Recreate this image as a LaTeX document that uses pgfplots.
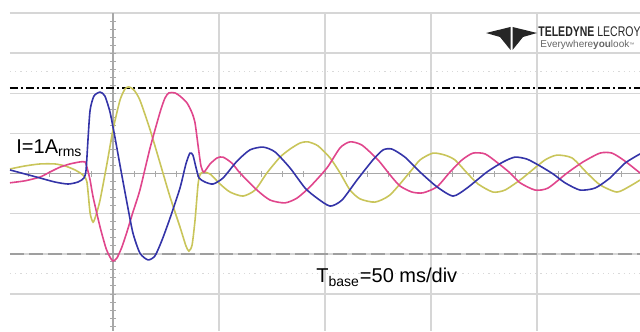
\documentclass[border=0pt]{standalone}
\usepackage{pgfplots}
\pgfplotsset{compat=1.18}
\usepackage{fontspec}
\setmainfont{Liberation Sans}

\definecolor{phaseA}{HTML}{C9C55A}
\definecolor{phaseB}{HTML}{E0468C}
\definecolor{phaseC}{HTML}{3434A8}
\definecolor{gridgray}{HTML}{D6D6D6}
\definecolor{centergray}{HTML}{A8A8A8}

% time in ms (50 ms/div), current in divisions
\pgfplotstableread{
t v
-48.6 0.115
-41.5 0.19
-34.4 0.24
-27.4 0.24
-22.6 0.19
-17.9 0.09
-14.2 -0.035
-12.3 -0.21
-10.8 -0.98
-9.4 -1.21
-8.0 -1.03
-6.1 -0.66
-2.8 0.26
0 1.09
3.3 1.83
5.7 2.11
7.5 2.16
9.9 2.08
12.7 1.83
17.5 1.09
22.2 0.26
26.9 -0.58
31.6 -1.33
34.4 -1.80
35.8 -1.93
37.3 -1.78
38.7 -1.16
40.1 -0.28
41.0 -0.035
42.5 0.04
45.8 -0.01
50.5 -0.26
55.2 -0.46
61.3 -0.56
67.0 -0.41
72.6 0.015
78.8 0.41
83.5 0.61
88.2 0.76
92.0 0.79
96.7 0.69
102.4 0.39
107.1 0.015
111.8 -0.41
116.5 -0.63
123.6 -0.71
130.7 -0.53
140.1 0.04
144.8 0.34
150.9 0.51
156.6 0.46
161.3 0.34
167.0 0.015
172.2 -0.26
179.2 -0.46
184.9 -0.41
192.0 -0.16
196.7 0.04
203.8 0.34
209.4 0.46
216.5 0.39
223.6 0.015
229.7 -0.28
237.7 -0.46
243.9 -0.31
248.6 -0.16
}\phaseAdata

\pgfplotstableread{
t v
-48.6 -0.23
-41.5 -0.18
-34.4 -0.085
-29.7 0.04
-25.0 0.16
-20.3 0.24
-15.6 0.29
-13.2 0.29
-12.3 0.16
-10.8 -0.16
-9.4 -0.58
-6.1 -1.33
-3.3 -1.86
-1.4 -2.08
0 -2.18
1.9 -2.10
4.2 -1.83
6.6 -1.45
9.4 -0.96
12.7 -0.41
17.5 0.64
22.2 1.53
24.5 1.88
26.4 2.01
29.2 2.01
31.6 1.93
34.9 1.76
37.3 1.51
38.7 1.26
40.1 0.71
41.5 0.19
42.9 0.04
45.8 0.24
49.1 0.39
51.9 0.41
56.1 0.26
59.9 0.015
67.9 -0.41
74.1 -0.66
81.1 -0.73
86.8 -0.61
92.9 -0.33
100.9 0.14
107.1 0.64
111.8 0.79
117.4 0.71
125.0 0.34
130.7 -0.035
135.4 -0.31
141.0 -0.46
146.2 -0.48
152.8 -0.33
159.0 0.04
164.6 0.34
169.8 0.51
175.5 0.49
181.6 0.26
187.3 0.015
192.0 -0.23
199.1 -0.41
205.2 -0.36
214.2 0.015
221.7 0.29
229.7 0.51
235.4 0.51
241.5 0.31
248.6 0.015
}\phaseBdata

\pgfplotstableread{
t v
-48.6 0.09
-41.5 -0.01
-34.4 -0.11
-27.4 -0.21
-21.2 -0.26
-16.5 -0.21
-13.7 -0.11
-12.7 0.09
-11.8 0.84
-10.8 1.58
-9.0 1.93
-6.1 2.03
-3.8 1.93
-1.4 1.53
0.9 0.91
3.3 0.21
6.6 -0.73
9.4 -1.48
12.7 -1.98
16.5 -2.15
19.8 -2.05
23.1 -1.66
26.9 -1.11
31.6 -0.36
34.4 0.24
36.3 0.51
37.7 0.46
39.2 0.14
40.6 -0.11
43.4 -0.21
47.2 -0.26
51.9 -0.11
58.5 0.31
64.6 0.59
70.8 0.66
76.4 0.54
83.5 0.14
90.6 -0.36
96.2 -0.61
102.4 -0.81
108.0 -0.66
115.1 -0.16
122.6 0.34
127.4 0.59
131.6 0.61
137.7 0.41
144.8 0.04
152.8 -0.33
160.4 -0.56
167.0 -0.36
176.4 0.04
184.0 0.29
189.6 0.41
195.3 0.36
201.4 0.19
207.6 -0.01
213.2 -0.23
220.3 -0.41
227.4 -0.36
234.4 -0.11
241.5 0.26
248.6 0.49
}\phaseCdata

\begin{document}
\begin{tikzpicture}[x=1pt,y=1pt]
\path[use as bounding box] (0,0) rectangle (320,165.5);
\begin{axis}[
  at={(5pt,0pt)}, anchor=south west,
  scale only axis, width=315pt, height=159pt,
  xmin=-48.58, xmax=248.58, ymin=-3.921, ymax=4,
  axis line style={draw=none},
  xtick={0,50,100,150,200}, ytick={-3,-2,-1,0,1,2,3,4},
  xticklabels={}, yticklabels={},
  major tick length=0pt,
  grid=major,
  major grid style={draw=gridgray, line width=0.7pt},
  clip=true,
]
% faint sub-graticule rows
\addplot[gray!30, line width=0.6pt, dotted] coordinates {(-48.58,2.54) (248.58,2.54)};
\addplot[gray!30, line width=0.6pt, dotted] coordinates {(-48.58,-2.48) (248.58,-2.48)};
% centre axes of the graticule with their division marks
\draw[centergray, line width=0.7pt] (axis cs:0,-3.921) -- (axis cs:0,4);
\draw[centergray, line width=0.7pt] (axis cs:-48.58,0) -- (axis cs:248.58,0);
\pgfplotsinvokeforeach{-19,...,19}{
  \draw[centergray, line width=0.5pt] ([xshift=-1.5pt]axis cs:0,#1/5) -- ([xshift=1.5pt]axis cs:0,#1/5);
}
\pgfplotsinvokeforeach{-4,...,24}{
  \draw[centergray, line width=0.5pt] ([yshift=-1.5pt]axis cs:#1*10,0) -- ([yshift=1.5pt]axis cs:#1*10,0);
}
% level cursors
\addplot[black, line width=1pt, dash pattern=on 4pt off 1.5pt on 1pt off 1.5pt] coordinates {(-48.58,2.125) (248.58,2.125)};
\addplot[gray!75, line width=0.8pt, dash pattern=on 7pt off 2.5pt] coordinates {(-48.58,-2.01) (248.58,-2.01)};
% phase currents
\addplot[phaseA, line width=0.8pt, smooth, tension=0.4] table[x=t, y=v] {\phaseAdata};
\addplot[phaseB, line width=0.8pt, smooth, tension=0.4] table[x=t, y=v] {\phaseBdata};
\addplot[phaseC, line width=0.8pt, smooth, tension=0.4] table[x=t, y=v] {\phaseCdata};
\end{axis}

% annotations and brand mark, placed in screen units (0.5 pt each, y downwards)
\begin{scope}[shift={(0pt,165.5pt)}, x=0.5pt, y=-0.5pt]
  \node[anchor=base west, inner sep=0pt, font=\fontsize{10}{12}\selectfont] at (16,154) {I=1A\textsubscript{rms}};
  \node[anchor=base west, inner sep=0pt, font=\fontsize{10}{12}\selectfont] at (316,283) {T\textsubscript{base}=50 ms/div};
  \fill[black!85] (486,33) -- (510.5,27) -- (510.5,50) -- (500,37) -- cycle;
  \fill[black!85] (537,33) -- (512.5,27) -- (512.5,50) -- (523,37) -- cycle;
  \node[anchor=base west, inner sep=0pt, font=\fontsize{7}{8}\selectfont, text=black!85] at (538,37)
    {\scalebox{0.75}[1]{\textbf{TELEDYNE} LECROY}};
  \node[anchor=base west, inner sep=0pt, font=\fontsize{5}{6}\selectfont, text=black!60] at (540,47.5)
    {Everywhere\textbf{you}look\raisebox{0.6pt}{\fontsize{2.5}{3}\selectfont ™}};
\end{scope}
\end{tikzpicture}
\end{document}
